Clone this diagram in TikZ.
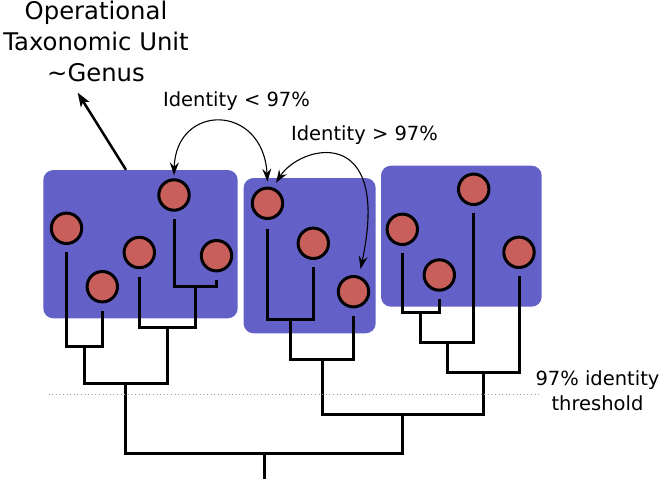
\documentclass[tikz,border=0pt]{standalone}
\usepackage{fontspec}
\setmainfont{DejaVu Sans}
\usetikzlibrary{arrows.meta,calc}
\definecolor{boxblue}{RGB}{99,96,200}
\definecolor{otured}{RGB}{200,95,90}
\tikzset{
  otubox/.style={rectangle, rounded corners=10pt, fill=boxblue, draw=none, inner sep=0pt},
  leaf/.style={circle, minimum size=30.4pt, inner sep=0pt, draw=black, line width=3pt, fill=otured},
  tree/.style={line width=3pt, draw=black},
  curv/.style={line width=1.1pt, {Stealth[length=13pt,width=9pt,inset=4.5pt]}-{Stealth[length=13pt,width=9pt,inset=4.5pt]}},
  bigarrow/.style={line width=2.5pt, -{Stealth[length=14pt,width=10pt,inset=3.5pt]}},
  lbl/.style={inner sep=0pt, font=\fontsize{19.5}{25}\selectfont},
  ttl/.style={inner sep=0pt, align=center, font=\fontsize{24.3}{31}\selectfont},
}
\begin{document}
\begin{tikzpicture}[x=1pt,y=-1pt]
\useasboundingbox (0,0) rectangle (662,479);
% boxes
\node[otubox, minimum width=194.4pt, minimum height=148.3pt] (box1) at (140.5,244.2) {};
\node[otubox, minimum width=132.1pt, minimum height=155.3pt] (box2) at (309.65,255.65) {};
\node[otubox, minimum width=160.7pt, minimum height=141pt] (box3) at (461.35,236.2) {};
% leaves
\node[leaf] (c1) at (66.5,228.3) {};
\node[leaf] (c2) at (102.3,286.7) {};
\node[leaf] (c3) at (139.3,252.5) {};
\node[leaf] (c4) at (174,195) {};
\node[leaf] (c5) at (216.5,255.7) {};
\node[leaf] (d1) at (267.5,203.3) {};
\node[leaf] (d2) at (313.3,243.3) {};
\node[leaf] (d3) at (353.5,291.7) {};
\node[leaf] (e1) at (402.3,229.3) {};
\node[leaf] (e2) at (439.3,275) {};
\node[leaf] (e3) at (473.7,189.3) {};
\node[leaf] (e4) at (519,252.3) {};
% joints
\coordinate (j12) at (84.4,346.7);
\coordinate (j45) at (195.3,286.7);
\coordinate (j345) at (167.3,327.7);
\coordinate (jA) at (125.8,383.3);
\coordinate (k12) at (290.4,319.3);
\coordinate (kB) at (322,359);
\coordinate (m12) at (420.8,312.7);
\coordinate (m123) at (447.2,342.3);
\coordinate (mC) at (483.1,372.3);
\coordinate (BC) at (402.5,414);
\coordinate (root) at (264.2,453.3);
\coordinate (rootEnd) at (264.2,479);
% tree
\draw[tree] ([yshift=-7.3pt]c1.south) |- (j12) -| ([yshift=-7.3pt]c2.south);
\draw[tree] ([yshift=-7.3pt]c4.south) |- (j45) -| ([yshift=-7.3pt]c5.south);
\draw[tree] ([yshift=-7.3pt]c3.south) |- (j345) -| (j45);
\draw[tree] (j12) |- (jA) -| (j345);
\draw[tree] ([yshift=-9pt]d1.south) |- (k12) -| ([yshift=-7.3pt]d2.south);
\draw[tree] (k12) |- (kB) -| ([yshift=-7.3pt]d3.south);
\draw[tree] ([yshift=-7.3pt]e1.south) |- (m12) -| ([yshift=-7.3pt]e2.south);
\draw[tree] (m12) |- (m123) -| ([yshift=-7.3pt]e3.south);
\draw[tree] (m123) |- (mC) -| ([yshift=-7.3pt]e4.south);
\draw[tree] (kB) |- (BC) -| (mC);
\draw[tree] (jA) |- (root) -| (BC);
\draw[tree] (root) -- (rootEnd);
% threshold
\coordinate (thrL) at (48.5,394);
\coordinate (thrR) at (540,394);
\draw[gray!80, line width=0.9pt, dash pattern=on 1pt off 2.6pt] (thrL) -- (thrR);
\node[lbl, align=center, anchor=north] (thr) at (597.5,370) {97\% identity\\threshold};
% labels
\node[ttl, anchor=north] (title) at (96,1) {Operational\\Taxonomic Unit\\\textasciitilde Genus};
\coordinate (otuTip) at (77.7,92.7);
\draw[bigarrow] ([xshift=-14.5pt]box1.north) -- (otuTip);
\node[lbl, anchor=base] (lt) at (236.5,106.7) {Identity < 97\%};
\node[lbl, anchor=base] (gt) at (364.5,140) {Identity > 97\%};
% curved arrows
\draw[curv] ([yshift=3pt]c4.north) .. controls (176,103) and (263,103) .. ([yshift=5pt]d1.north);
\draw[curv] ($(d1)+(8.5,-20.5)$) .. controls (300,145) and (392,122) .. ([xshift=7pt,yshift=6pt]d3.north);
\end{tikzpicture}
\end{document}
